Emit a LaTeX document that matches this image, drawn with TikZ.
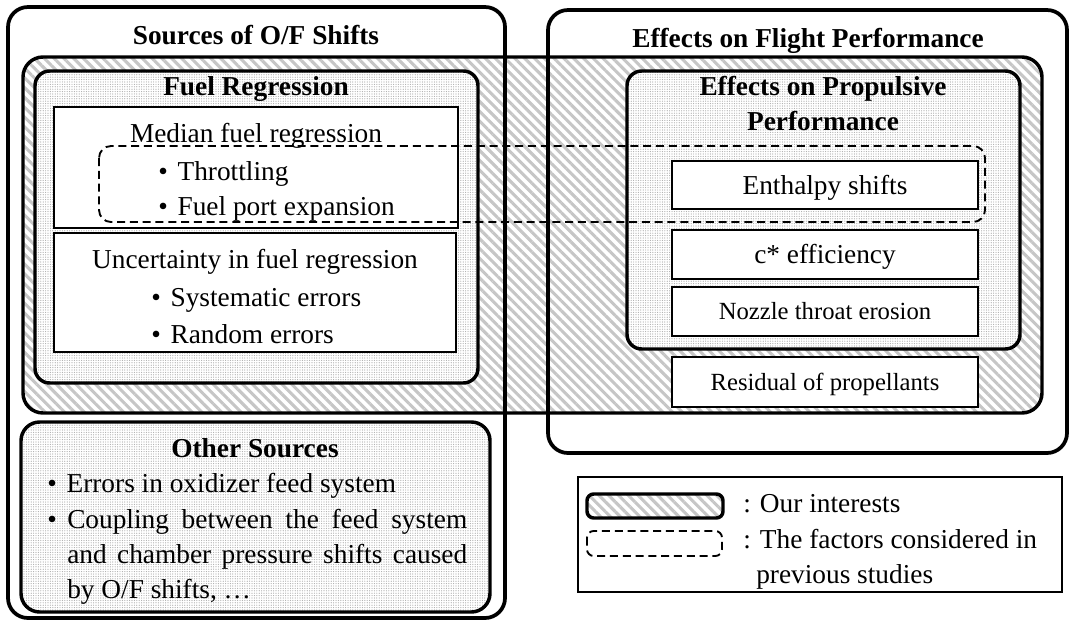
\documentclass[tikz,border=0pt]{standalone}
\usepackage{fontspec}
\setmainfont{Liberation Serif}
\usetikzlibrary{positioning,patterns.meta}

\newcommand{\bulitem}[1]{\makebox[14.5pt][l]{\textbullet}#1}

\tikzset{
  bigbox/.style={draw, line width=2.8pt, rounded corners=15pt},
  interest/.style={draw, line width=2.6pt, rounded corners=15pt,
    pattern={Lines[angle=-45,distance=5.2pt,line width=2.3pt]}, pattern color=gray!45},
  shaded/.style={draw, line width=2.6pt, rounded corners=11pt, preaction={fill=white},
    pattern={Dots[distance=1.8pt,radius=0.45pt]}, pattern color=gray!65},
  itembox/.style={draw, line width=0.8pt, fill=white, inner sep=0pt, outer sep=0pt,
    minimum width=229.5pt},
  prevwork/.style={draw, dash pattern=on 6pt off 3.6pt, line width=1.4pt, rounded corners=9pt},
  head/.style={font=\fontsize{20.5}{26}\selectfont\bfseries, inner sep=0pt},
  txt/.style={font=\fontsize{20.5}{26.25}\selectfont, inner sep=0pt},
  boxtxt/.style={txt, text height=17pt, text depth=3.5pt},
  smalltxt/.style={font=\fontsize{18.5}{22}\selectfont, text height=15.5pt, text depth=3.3pt},
}

\begin{document}
\begin{tikzpicture}[x=0.75pt,y=-0.75pt]
\useasboundingbox (0,0) rectangle (1072,622);

% our interests and the two main groups
\draw[interest] (23,57) rectangle (1042,413);
\draw[bigbox] (8,7) rectangle (505,618);
\draw[bigbox] (548,10) rectangle (1067,453);
\node[head, anchor=base] (srctitle) at (256,44) {Sources of O/F Shifts};
\node[head, anchor=base] (efftitle) at (808,47) {Effects on Flight Performance};

% fuel regression
\draw[shaded] (35,71) rectangle (478,383);
\node[head, anchor=base] (fueltitle) at (256,95) {Fuel Regression};
\draw[itembox] (54,107) rectangle (458,228);
\draw[itembox] (54,233) rectangle (456,352);
\node[txt, anchor=base] (median) at (256,142) {Median fuel regression};
\node[txt, anchor=base west] (throttling) at (158,180) {\bulitem{Throttling}};
\node[txt, anchor=base west] (portexp) at (158,215) {\bulitem{Fuel port expansion}};
\node[txt, anchor=base] (uncert) at (255,268) {Uncertainty in fuel regression};
\node[txt, anchor=base west] (syserr) at (151,306) {\bulitem{Systematic errors}};
\node[txt, anchor=base west] (randerr) at (151,343) {\bulitem{Random errors}};

% other sources
\draw[shaded, rounded corners=14pt] (21,422) rectangle (490,612);
\node[head, anchor=base] (othtitle) at (255,457) {Other Sources};
\node[txt, anchor=base west] (feederr) at (47,492) {\bulitem{Errors in oxidizer feed system}};
\node[txt, anchor=base west] (coupbul) at (47,528) {\textbullet};
\node[txt, anchor=north west, text width=300pt, align=justify] (coupling) at (67,509)
  {Coupling between the feed system\linebreak
   and chamber pressure shifts caused\linebreak by O/F shifts, \dots};

% propulsive performance
\draw[shaded] (627,71) rectangle (1020,349);
\node[head, anchor=base] (proptitle) at (823,95) {Effects on Propulsive};
\node[head, anchor=base] (proptitle2) at (823,130) {Performance};
\node[itembox, boxtxt, minimum height=36pt] (enthalpy) at (825,185) {Enthalpy shifts};
\node[itembox, boxtxt, minimum height=36.75pt, below=15.75pt of enthalpy] (cstar) {c* efficiency};
\node[itembox, smalltxt, minimum height=36.75pt, below=6pt of cstar] (nozzle) {Nozzle throat erosion};
\node[itembox, smalltxt, minimum height=37.5pt, below=15.75pt of nozzle] (residual) {Residual of propellants};

% previous studies
\draw[prevwork] (99,146) rectangle (985,222);

% legend
\draw[line width=0.8pt] (578,477) rectangle (1062,592);
\draw[interest, rounded corners=5pt] (587,494) rectangle (723,518);
\draw[prevwork, rounded corners=5pt] (587,531) rectangle (722,556);
\node[txt, anchor=base west] (leg1) at (743,512) {: Our interests};
\node[txt, anchor=base west] (leg2) at (743,548) {: The factors considered in};
\node[txt, anchor=base west] (leg3) at (756,583) {previous studies};
\end{tikzpicture}
\end{document}
